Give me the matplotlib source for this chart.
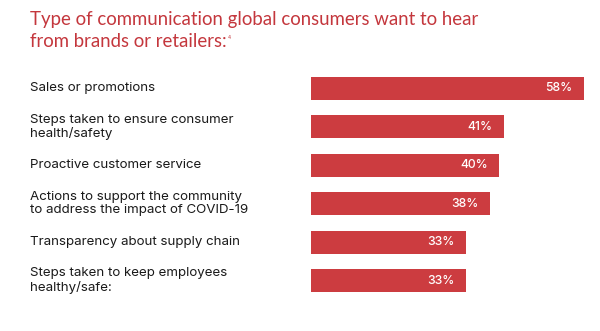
import matplotlib
matplotlib.use("Agg")
import matplotlib.pyplot as plt
import matplotlib.transforms as mtransforms

categories = ["Sales or promotions",
              "Steps taken to ensure consumer\nhealth/safety",
              "Proactive customer service",
              "Actions to support the community\nto address the impact of COVID-19",
              "Transparency about supply chain",
              "Steps taken to keep employees\nhealthy/safe:"]
values = [58, 41, 40, 38, 33, 33]
value_labels = ["58%", "41%", "40%", "38%", "33%", "33%"]
title_lines = ["Type of communication global consumers want to hear",
               "from brands or retailers:"]
footnote = "4"

bar_color = "#CC3C40"
title_color = "#C4373D"
text_color = "#1a1a1a"

plt.rcParams["font.family"] = ["Inter", "DejaVu Sans"]

fig = plt.figure(figsize=(6, 3.31), dpi=100)
ax = fig.add_axes([311 / 600, 1 - 299.7 / 331, 289 / 600, 230.4 / 331])

pos = list(range(len(values)))
ax.barh(pos, values, height=0.6, color=bar_color, edgecolor="none")
ax.set_xlim(0, 61.5)
ax.set_ylim(len(values) - 0.5, -0.5)
ax.axis("off")

## value labels inside bars
for p, v, lab in zip(pos, values, value_labels):
    ax.text(v - 2.4, p, lab, color="white", fontsize=8.8, fontweight="medium",
            ha="right", va="center")

## category labels on the left
trans = mtransforms.blended_transform_factory(fig.transFigure, ax.transData)
for p, cat in zip(pos, categories):
    ax.text(30 / 600, p, cat, transform=trans, fontsize=9.6, color=text_color,
            ha="left", va="center", linespacing=1.15)

## title, one text per line so the footnote can sit right after line 2
t1 = fig.text(30 / 600, 1 - 25 / 331, title_lines[0], family=["Lato", "DejaVu Sans"],
              fontsize=13.4, color=title_color, ha="left", va="baseline")
t2 = fig.text(30 / 600, 1 - 47 / 331, title_lines[1], family=["Lato", "DejaVu Sans"],
              fontsize=13.4, color=title_color, ha="left", va="baseline")
fig.canvas.draw()
bb = t2.get_window_extent()
fig.text((bb.x1 + 1.5) / fig.bbox.width, (bb.y0 + 0.72 * bb.height) / fig.bbox.height,
         footnote, fontsize=3.5, color=title_color, ha="left", va="center")

fig.savefig("out.png", dpi=100)
